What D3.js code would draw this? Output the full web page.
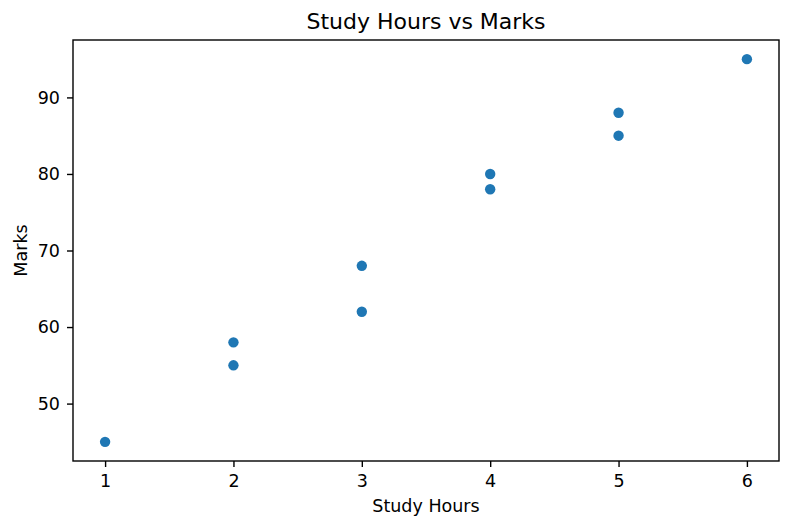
<!DOCTYPE html>
<html>
<head>
<meta charset="utf-8">
<script src="https://cdn.jsdelivr.net/npm/d3@7"></script>
<style>
  body { margin: 0; background: #fff; }
  text { font-family: "DejaVu Sans", sans-serif; fill: #000; }
</style>
</head>
<body>
<div id="chart"></div>
<script>
const hours = [1, 2, 2, 3, 3, 4, 4, 5, 5, 6];
const marks = [45, 55, 58, 62, 68, 78, 80, 85, 88, 95];
const xTicks = [1, 2, 3, 4, 5, 6];
const yTicks = [50, 60, 70, 80, 90];

const width = 791;
const height = 530;
const margin = { top: 40, right: 12, bottom: 69, left: 73 };
const w = width - margin.left - margin.right;
const h = height - margin.top - margin.bottom;

const svg = d3.select("#chart")
  .append("svg")
  .attr("width", width)
  .attr("height", height);

const g = svg.append("g")
  .attr("transform", `translate(${margin.left},${margin.top})`);

// matplotlib-style 5% padding on each side
const xPad = (d3.max(hours) - d3.min(hours)) * 0.05;
const yPad = (d3.max(marks) - d3.min(marks)) * 0.05;

const x = d3.scaleLinear()
  .domain([d3.min(hours) - xPad, d3.max(hours) + xPad])
  .range([0, w]);

const y = d3.scaleLinear()
  .domain([d3.min(marks) - yPad, d3.max(marks) + yPad])
  .range([h, 0]);

const xAxis = g.append("g")
  .attr("transform", `translate(0,${h})`)
  .call(d3.axisBottom(x).tickValues(xTicks).tickSize(6).tickPadding(8).tickFormat(d3.format("d")));

const yAxis = g.append("g")
  .call(d3.axisLeft(y).tickValues(yTicks).tickSize(6).tickPadding(7).tickFormat(d3.format("d")));

[xAxis, yAxis].forEach(a => {
  a.select(".domain").remove();
  a.attr("font-size", null).attr("font-family", null);
  a.selectAll("line").attr("stroke", "#000").attr("stroke-width", 1.4);
  a.selectAll("text").style("font-size", "17.5px");
});

// frame
g.append("rect")
  .attr("width", w)
  .attr("height", h)
  .attr("fill", "none")
  .attr("stroke", "#000")
  .attr("stroke-width", 1.4);

g.selectAll(".dot")
  .data(hours.map((d, i) => ({ h: d, m: marks[i] })))
  .enter()
  .append("circle")
  .attr("class", "dot")
  .attr("cx", d => x(d.h))
  .attr("cy", d => y(d.m))
  .attr("r", 5.2)
  .attr("fill", "#1f77b4");

svg.append("text")
  .attr("x", margin.left + w / 2)
  .attr("y", 29)
  .attr("text-anchor", "middle")
  .style("font-size", "22px")
  .text("Study Hours vs Marks");

svg.append("text")
  .attr("x", margin.left + w / 2)
  .attr("y", 512)
  .attr("text-anchor", "middle")
  .style("font-size", "17.5px")
  .text("Study Hours");

svg.append("text")
  .attr("transform", `translate(27,${margin.top + h / 2}) rotate(-90)`)
  .attr("text-anchor", "middle")
  .style("font-size", "17.5px")
  .text("Marks");
</script>
</body>
</html>
